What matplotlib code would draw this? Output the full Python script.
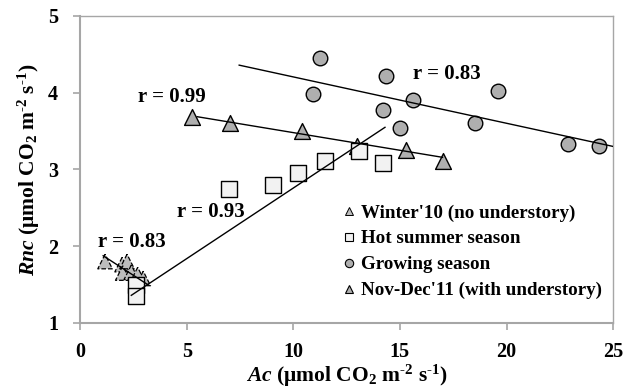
import matplotlib
matplotlib.use("Agg")
import matplotlib.pyplot as plt
import numpy as np
from matplotlib.lines import Line2D

plt.rcParams['font.family'] = ['Liberation Serif', 'DejaVu Serif']
plt.rcParams['font.weight'] = 'bold'
plt.rcParams['mathtext.fontset'] = 'custom'
plt.rcParams['mathtext.rm'] = 'Liberation Serif:bold'
plt.rcParams['mathtext.it'] = 'Liberation Serif:italic:bold'
plt.rcParams['mathtext.bf'] = 'Liberation Serif:bold'

# Data
winter_x = [1.17, 1.97, 2.2, 2.0, 2.4, 2.7, 2.96]
winter_y = [1.80, 1.76, 1.80, 1.65, 1.66, 1.63, 1.58]
summer_x = [2.6, 2.6, 7.0, 9.06, 10.2, 11.5, 13.1, 14.2]
summer_y = [1.49, 1.35, 2.74, 2.80, 2.96, 3.11, 3.24, 3.09]
grow_x = [11.27, 14.37, 10.9, 15.6, 19.6, 14.2, 15.0, 18.5, 22.9, 24.35]
grow_y = [4.45, 4.22, 3.98, 3.90, 4.02, 3.77, 3.54, 3.61, 3.33, 3.30]
nov_x = [5.26, 7.04, 10.4, 13.0, 15.3, 17.0]
nov_y = [3.68, 3.61, 3.50, 3.31, 3.26, 3.11]

# fitted lines: (x_start, x_end, slope, intercept)
winter_fit = (1.08, 3.19, -0.18, 2.07)
summer_fit = (2.4, 14.3, 0.184, 0.918)
grow_fit = (7.46, 25.0, -0.0604, 4.81)
nov_fit = (5.49, 17.0, -0.046, 3.94)

labels = ["Winter'10 (no understory)", "Hot summer season",
          "Growing season", "Nov-Dec'11 (with understory)"]

fig = plt.figure(figsize=(6.36, 3.90), dpi=100)
ax = fig.add_axes([0.126, 0.172, 0.838, 0.787])

ax.scatter(grow_x, grow_y, s=110, marker='o', facecolor='#AFAFAF', edgecolor='black', linewidths=1.0, zorder=3)
ax.scatter(nov_x, nov_y, s=130, marker='^', facecolor='#AFAFAF', edgecolor='black', linewidths=1.0, zorder=3)
ax.scatter(winter_x, winter_y, s=110, marker='^', facecolor='#BDBDBD', edgecolor='black', linewidths=0.9,
           linestyles='--', zorder=3)
ax.scatter(summer_x, summer_y, s=120, marker='s', facecolor='#F2F2F2', edgecolor='black', linewidths=1.0, zorder=3.5)

for (x0, x1, m, b) in [winter_fit, summer_fit, grow_fit, nov_fit]:
    xs = np.array([x0, x1])
    ax.plot(xs, m * xs + b, color='black', lw=1.0, zorder=4)

fs = 15
ax.text(2.7, 3.94, "r = 0.99", fontsize=fs, fontweight='bold', va='center')
ax.text(15.6, 4.24, "r = 0.83", fontsize=fs, fontweight='bold', va='center')
ax.text(4.55, 2.44, "r = 0.93", fontsize=fs, fontweight='bold', va='center')
ax.text(0.85, 2.06, "r = 0.83", fontsize=fs, fontweight='bold', va='center')

ax.set_xlim(0, 25)
ax.set_ylim(1, 5)
ax.set_xticks([0, 5, 10, 15, 20, 25])
ax.set_yticks([1, 2, 3, 4, 5])
for sp in ax.spines.values():
    sp.set_color('#A6A6A6')
ax.spines['left'].set_linewidth(1.5)
ax.spines['bottom'].set_linewidth(1.5)
ax.spines['top'].set_linewidth(1.0)
ax.spines['right'].set_linewidth(1.0)
ax.tick_params(direction='out', length=5, width=1.2, color='#A6A6A6', labelsize=14.5)
ax.tick_params(axis='x', pad=9)
ax.tick_params(axis='y', pad=11)

ax.set_xlabel(r"$\mathit{Ac}$ (μmol CO$_2$ m$^{\text{-2}}$ s$^{\text{-1}}$)", fontsize=15.5, fontweight='bold', labelpad=0)
ax.set_ylabel(r"$\mathit{Rnc}$ (μmol CO$_2$ m$^{\text{-2}}$ s$^{\text{-1}}$)", fontsize=15.5, fontweight='bold', labelpad=4)

handles = [
    Line2D([], [], marker='^', ls='none', markersize=6, markerfacecolor='#BDBDBD', markeredgecolor='black', markeredgewidth=0.7),
    Line2D([], [], marker='s', ls='none', markersize=6, markerfacecolor='#F2F2F2', markeredgecolor='black', markeredgewidth=0.8),
    Line2D([], [], marker='o', ls='none', markersize=6, markerfacecolor='#AFAFAF', markeredgecolor='black', markeredgewidth=0.8),
    Line2D([], [], marker='^', ls='none', markersize=6, markerfacecolor='#AFAFAF', markeredgecolor='black', markeredgewidth=0.8),
]
leg = ax.legend(handles, labels, loc='lower right', bbox_to_anchor=(1.0, 0.04), frameon=False,
                fontsize=13.7, handlelength=0.6, handletextpad=0.3, labelspacing=0.45, borderaxespad=0.2)
for t in leg.get_texts():
    t.set_fontweight('bold')

fig.savefig("out.png", dpi=100)
